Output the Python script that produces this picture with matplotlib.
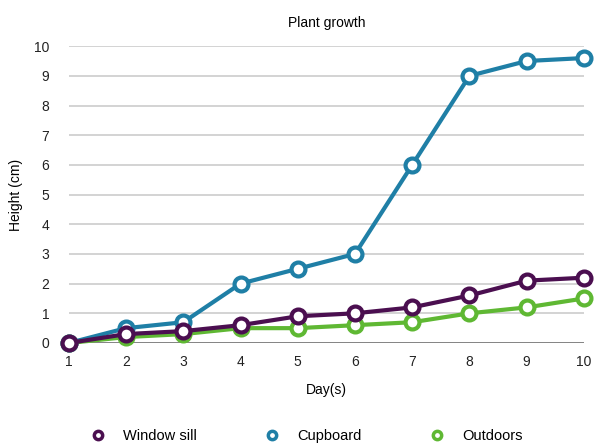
import matplotlib.pyplot as plt
from matplotlib.lines import Line2D

plt.rcParams['font.family'] = ['Liberation Sans', 'DejaVu Sans']

days = [1, 2, 3, 4, 5, 6, 7, 8, 9, 10]
window_sill = [0, 0.3, 0.4, 0.6, 0.9, 1.0, 1.2, 1.6, 2.1, 2.2]
cupboard = [0, 0.5, 0.7, 2.0, 2.5, 3.0, 6.0, 9.0, 9.5, 9.6]
outdoors = [0, 0.2, 0.3, 0.5, 0.5, 0.6, 0.7, 1.0, 1.2, 1.5]

series = [
    ("Window sill", window_sill, "#4b0f50", 5),
    ("Cupboard", cupboard, "#1f7fa6", 4),
    ("Outdoors", outdoors, "#5fb833", 3),
]

fig = plt.figure(figsize=(5.94, 4.44), dpi=100)
ax = fig.add_axes([0.116, 0.2275, 0.867, 0.6685])

for label, vals, color, z in series:
    ax.plot(days, vals, color=color, lw=3, marker='o', ms=10,
            mfc='white', mec=color, mew=3, clip_on=False, zorder=z, label=label)

ax.set_xlim(1, 10)
ax.set_ylim(0, 10)
ax.set_xticks(days)
ax.set_yticks(range(0, 11))
ax.tick_params(axis='y', length=0, labelsize=10, pad=14, colors='#222222')
ax.tick_params(axis='x', length=0, labelsize=10, pad=9, colors='#222222')
ax.yaxis.grid(True, color='#cccccc', lw=1.2)
ax.set_axisbelow(True)
for s in ax.spines.values():
    s.set_visible(False)
ax.axhline(0, color='#777777', lw=1.2, zorder=1)

ax.set_title("Plant growth", fontsize=10, pad=14)
ax.set_xlabel("Day(s)", fontsize=10, labelpad=10)
ax.set_ylabel("Height (cm)", fontsize=10, labelpad=8)

handles = [Line2D([], [], ls='none', marker='o', ms=6, mfc='white', mec=c, mew=2.5)
           for _, _, c, _ in series]
fig.legend(handles, [s[0] for s in series], loc='center', bbox_to_anchor=(0.51, 0.018),
           ncol=3, frameon=False, fontsize=10.5, columnspacing=4.2, handletextpad=0.7)

fig.savefig("out.png", dpi=100)
